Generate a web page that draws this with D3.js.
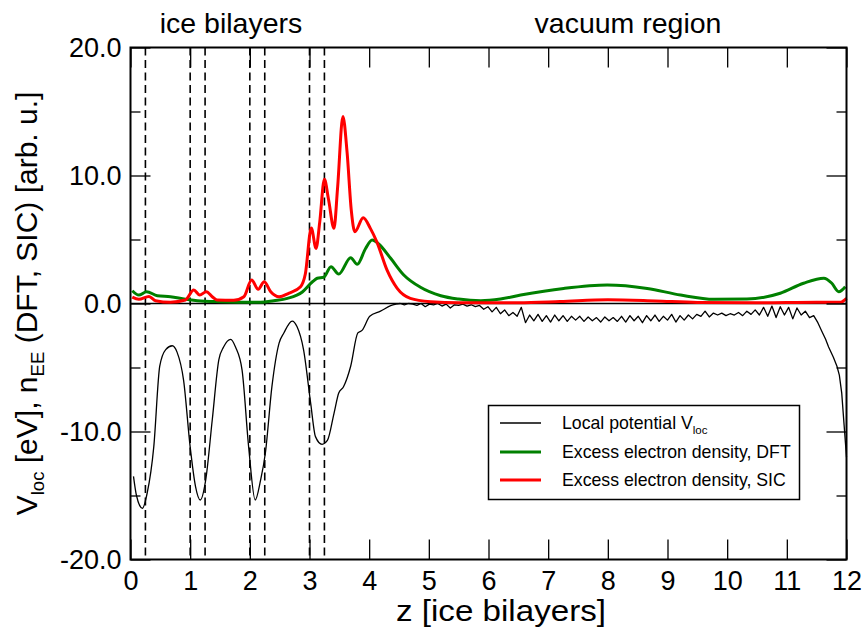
<!DOCTYPE html>
<html><head><meta charset="utf-8">
<script src="https://cdn.jsdelivr.net/npm/d3@7"></script>
<style>
html,body{margin:0;padding:0;background:#fff;}
text{font-family:"Liberation Sans",Arial,Helvetica,sans-serif;fill:#000;}
</style></head>
<body>
<svg id="chart" width="865" height="627"></svg>
<script>
(function(){
// ---------------- data ----------------
const xTicks = [0,1,2,3,4,5,6,7,8,9,10,11,12];
const yTicksMajor = [-20,-10,0,10,20];
const yTicksMinor = [-15,-5,5,15];
const yTickLabels = ["-20.0","-10.0","0.0","10.0","20.0"];
const bilayerLines = [0.25,1,1.25,2,2.25,3,3.25];

// local potential inside the ice slab [z, V]
const potentialSlab = [
 [0.05,-13.5],[0.1,-15.0],[0.2,-16.0],[0.28,-14.8],[0.39,-11.2],[0.49,-4.9],[0.59,-3.6],[0.70,-3.3],
 [0.78,-3.8],[0.89,-6.0],[1.0,-11.2],[1.09,-14.3],[1.17,-15.35],[1.26,-13.8],[1.37,-9.1],[1.48,-4.4],
 [1.56,-3.4],[1.68,-2.8],[1.76,-3.4],[1.87,-5.2],[1.98,-11.2],[2.09,-15.35],[2.18,-13.8],[2.26,-11.7],
 [2.37,-6.5],[2.49,-3.1],[2.57,-2.3],[2.71,-1.37],[2.79,-1.8],[2.90,-3.6],[3.02,-7.8],[3.10,-10.4],
 [3.21,-11.0],[3.30,-10.7],[3.41,-8.6],[3.49,-7.0],[3.57,-6.5],[3.69,-4.9],[3.81,-2.3],[3.88,-2.1],
 [4.01,-1.0],[4.19,-0.6],[4.36,-0.17]
];
// local potential in the vacuum (noisy), sampled on a uniform grid
const vacuumStart = 4.45, vacuumStep = 0.07;
const vacuumV = [
 -0.05,0.0,-0.1,0.0,-0.05,-0.15,0.0,-0.25,-0.05,-0.1,
 0.0,-0.2,-0.05,-0.35,-0.1,-0.15,-0.05,-0.2,-0.1,-0.25,
 -0.15,-0.45,-0.25,-0.65,-0.3,-0.8,-0.5,-0.95,-0.7,-1.0,
 -0.3,-1.5,-0.9,-1.35,-0.85,-1.4,-0.95,-1.45,-0.9,-1.35,
 -0.95,-1.4,-1.0,-1.3,-1.0,-1.4,-1.05,-1.35,-1.1,-1.45,
 -1.05,-1.35,-1.1,-1.4,-1.0,-1.45,-0.95,-1.35,-1.0,-1.5,
 -0.95,-1.35,-0.9,-1.4,-1.0,-1.3,-0.85,-1.45,-0.95,-1.3,
 -0.9,-1.2,-0.85,-1.0,-0.6,-1.05,-0.75,-0.9,-0.75,-0.95,
 -0.8,-0.9,-0.7,-0.95,-0.6,-0.85,-0.5,-0.9,-0.3,-1.0,
 -0.2,-1.1,-0.25,-0.9,-0.3,-1.2,-0.35,-0.9,-0.6,-1.1,-0.95
];
const potentialEdge = [
 [11.52,-1.5],[11.59,-2.2],[11.65,-2.8],[11.70,-3.4],[11.78,-4.2],[11.84,-4.9],
 [11.88,-5.6],[11.92,-7.0],[11.96,-9.5],[12.0,-12.0]
];

// excess electron density, DFT [z, n]
const densityDFT = [
 [0.03,1.0],[0.14,0.66],[0.27,0.92],[0.45,0.61],[0.67,0.53],[0.92,0.33],[1.12,0.22],[1.51,0.14],
 [2.18,0.09],[2.4,0.22],[2.63,0.4],[2.88,0.9],[3.05,1.7],[3.13,1.97],[3.24,2.05],[3.36,2.88],
 [3.49,2.3],[3.69,3.58],[3.8,3.06],[3.94,4.3],[4.05,4.96],[4.16,4.65],[4.36,3.53],[4.58,2.23],
 [4.86,1.27],[5.2,0.61],[5.5,0.35],[5.87,0.22],[6.2,0.35],[6.54,0.66],[7.26,1.18],[7.99,1.45],
 [8.66,1.18],[9.22,0.66],[9.78,0.33],[10.33,0.35],[10.89,0.8],[11.28,1.58],[11.62,1.97],
 [11.75,1.6],[11.87,0.92],[11.98,1.31]
];
// excess electron density, SIC [z, n]
const densitySIC = [
 [0.03,0.5],[0.14,0.33],[0.31,0.55],[0.42,0.22],[0.67,0.1],[0.92,0.27],[1.06,1.05],[1.16,0.66],
 [1.27,0.92],[1.37,0.53],[1.45,0.27],[1.73,0.25],[1.9,0.53],[2.03,1.84],[2.14,1.11],[2.24,1.7],
 [2.35,0.92],[2.49,0.53],[2.65,0.8],[2.85,1.31],[2.93,2.3],[3.03,5.9],[3.11,4.3],[3.17,6.3],
 [3.25,9.7],[3.32,8.1],[3.41,5.87],[3.47,9.0],[3.56,14.6],[3.63,11.8],[3.70,7.3],[3.76,5.6],
 [3.9,6.7],[4.02,5.87],[4.13,4.8],[4.30,2.6],[4.47,1.18],[4.69,0.4],[5.03,0.14],[5.5,0.05],
 [6.5,0.05],[7.2,0.15],[8.0,0.3],[8.8,0.2],[9.5,0.08],[10.5,0.05],[11.5,0.1],[11.9,0.1],[12.0,0.4]
];

const legendLabels = ["Local potential V", "Excess electron density, DFT", "Excess electron density, SIC"];
const regionLabels = ["ice bilayers","vacuum region"];

// ---------------- drawing ----------------
const svg = d3.select("#chart");
const L = 130.5, T = 47.5, R = 846.5, B = 559.5;
const x = d3.scaleLinear().domain([0,12]).range([L,R]);
const y = d3.scaleLinear().domain([-20,20]).range([B,T]);

const vacuum = vacuumV.map((v,i)=>[vacuumStart+i*vacuumStep, v]).concat(potentialEdge);

const g = svg.append("g");

g.selectAll("line.bl").data(bilayerLines).join("line")
  .attr("x1",d=>x(d)).attr("x2",d=>x(d)).attr("y1",T).attr("y2",B)
  .attr("stroke","#000").attr("stroke-width",1.6).attr("stroke-dasharray","8,4.5");

g.append("line").attr("x1",L).attr("x2",R).attr("y1",y(0)).attr("y2",y(0))
  .attr("stroke","#000").attr("stroke-width",1.6);

const line = d3.line().x(d=>x(d[0])).y(d=>y(d[1]));
const smooth = d3.line().x(d=>x(d[0])).y(d=>y(d[1])).curve(d3.curveMonotoneX);

g.append("path").datum(potentialSlab.concat([vacuum[0]]))
  .attr("d",smooth).attr("fill","none").attr("stroke","#000").attr("stroke-width",1.3);
g.append("path").datum(vacuum)
  .attr("d",line).attr("fill","none").attr("stroke","#000").attr("stroke-width",1.3).attr("stroke-linejoin","round");
g.append("path").datum(densityDFT).attr("d",smooth).attr("fill","none")
  .attr("stroke","#008000").attr("stroke-width",3);
g.append("path").datum(densitySIC).attr("d",smooth).attr("fill","none")
  .attr("stroke","#ff0000").attr("stroke-width",3);

const fs = 27;
const ax = svg.append("g");
ax.append("g").attr("transform",`translate(0,${B})`)
  .call(d3.axisBottom(x).tickValues(xTicks).tickSize(-20).tickPadding(11).tickFormat(d3.format("d")));
ax.append("g").attr("transform",`translate(0,${T})`)
  .call(d3.axisTop(x).tickValues(xTicks).tickSize(-20).tickFormat(""));
ax.append("g").attr("transform",`translate(${L},0)`)
  .call(d3.axisLeft(y).tickValues(yTicksMajor).tickSize(-20).tickPadding(9).tickFormat((d,i)=>yTickLabels[i]));
ax.append("g").attr("transform",`translate(${L},0)`)
  .call(d3.axisLeft(y).tickValues(yTicksMinor).tickSize(-10).tickFormat(""));
ax.append("g").attr("transform",`translate(${R},0)`)
  .call(d3.axisRight(y).tickValues(yTicksMajor).tickSize(-20).tickFormat(""));
ax.append("g").attr("transform",`translate(${R},0)`)
  .call(d3.axisRight(y).tickValues(yTicksMinor).tickSize(-10).tickFormat(""));
ax.selectAll(".domain").remove();
ax.selectAll(".tick line").attr("stroke","#000").attr("stroke-width",1.3);
ax.selectAll("text").attr("font-size",fs).attr("font-family","Liberation Sans, Arial, sans-serif").attr("fill","#000");

svg.append("rect").attr("x",L).attr("y",T).attr("width",R-L).attr("height",B-T)
  .attr("fill","none").attr("stroke","#000").attr("stroke-width",2);

svg.append("text").attr("x",501).attr("y",621).attr("text-anchor","middle")
  .attr("font-size",29).attr("textLength",210).attr("lengthAdjust","spacingAndGlyphs")
  .text("z [ice bilayers]");
const ts = 30;
const yl = svg.append("text").attr("transform",`translate(37,${(T+B)/2}) rotate(-90)`)
  .attr("text-anchor","middle").attr("font-size",ts);
yl.append("tspan").text("V");
yl.append("tspan").attr("font-size",ts*0.62).attr("dy",7).text("loc");
yl.append("tspan").attr("dy",-7).text(" [eV], n");
yl.append("tspan").attr("font-size",ts*0.62).attr("dy",7).text("EE");
yl.append("tspan").attr("dy",-7).text(" (DFT, SIC) [arb. u.]");

svg.append("text").attr("x",231).attr("y",33).attr("text-anchor","middle").attr("font-size",28.5).text(regionLabels[0]);
svg.append("text").attr("x",628).attr("y",33).attr("text-anchor","middle").attr("font-size",28.5).text(regionLabels[1]);

const lg = svg.append("g");
lg.append("rect").attr("x",488.5).attr("y",405.5).attr("width",311).attr("height",94)
  .attr("fill","#fff").attr("stroke","#000").attr("stroke-width",1.5);
const legColors = ["#000","#008000","#ff0000"], legWidths=[1.3,3,3], legY=[423,452,480];
legendLabels.forEach((t,i)=>{
  lg.append("line").attr("x1",500).attr("x2",541).attr("y1",legY[i]).attr("y2",legY[i])
    .attr("stroke",legColors[i]).attr("stroke-width",legWidths[i]);
  const tx = lg.append("text").attr("x",562).attr("y",legY[i]+6).attr("font-size",17.7).text(t);
  if(i===0) tx.append("tspan").attr("font-size",11.5).attr("dy",5).text("loc");
});
})();
</script>
</body></html>
